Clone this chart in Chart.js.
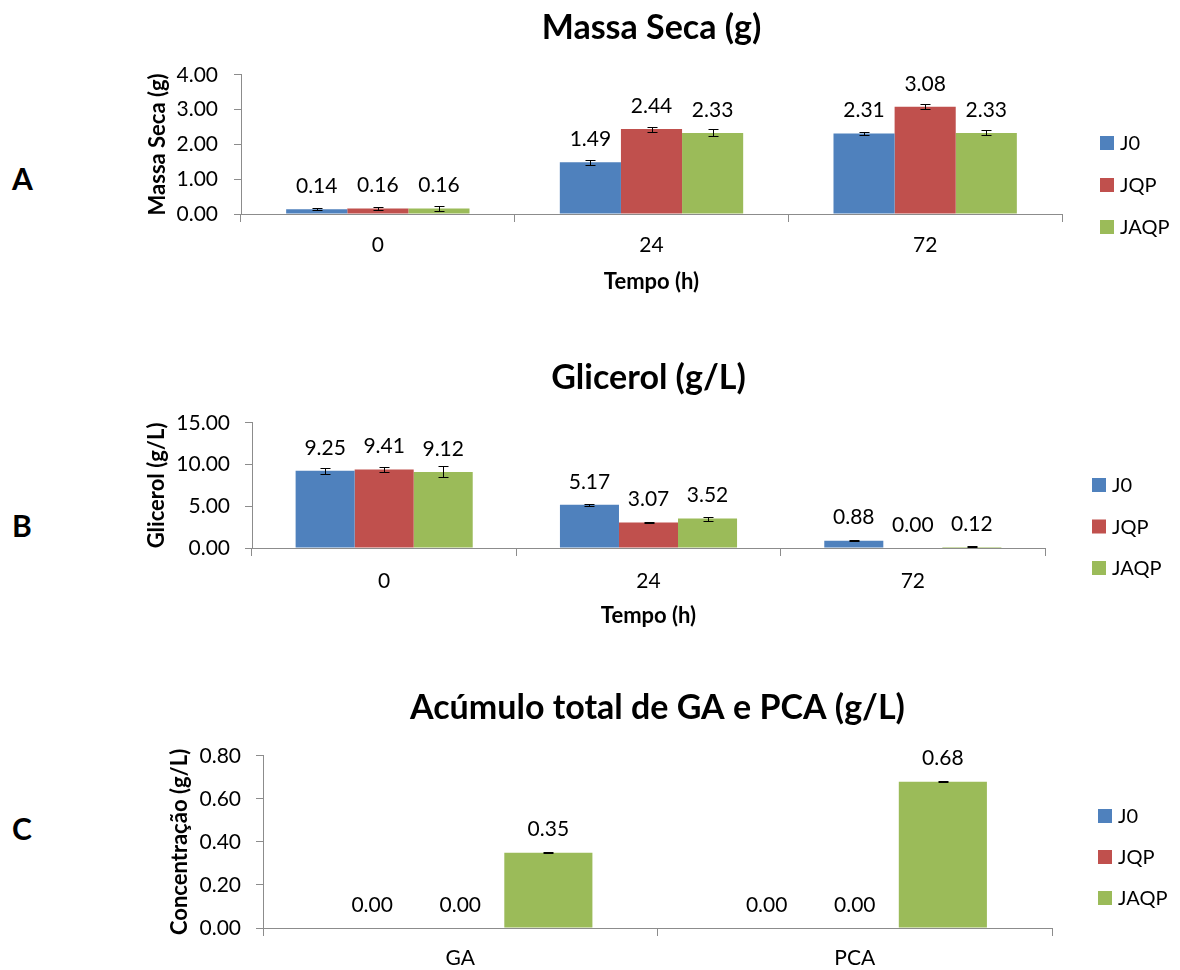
<!DOCTYPE html>
<html>
<head>
<meta charset="utf-8">
<script src="https://cdn.jsdelivr.net/npm/chart.js@4.4.0/dist/chart.umd.min.js"></script>
<style>
    body { margin: 0; background: #fff; width: 1180px; height: 970px; position: relative; overflow: hidden; }
    canvas { position: absolute; left: 0; }
    .letter { position: absolute; left: 12px; font: bold 30px Lato, sans-serif; line-height: 36px; color: #000; }
</style>
</head>
<body>
<div class="letter" style="top:160px">A</div>
<div class="letter" style="top:507px">B</div>
<div class="letter" style="top:810px">C</div>
<canvas id="chartA" width="1180" height="300" style="top:0"></canvas>
<canvas id="chartB" width="1180" height="310" style="top:330px"></canvas>
<canvas id="chartC" width="1180" height="310" style="top:660px"></canvas>
<script>
// Series shared by the three panels
const seriesNames = ['J0', 'JQP', 'JAQP'];
const seriesColors = ['#4F81BD', '#C0504D', '#9BBB59'];

// A - Massa Seca (g)
const tempoLabels = ['0', '24', '72'];
const massaJ0 = [0.14, 1.49, 2.31];
const massaJQP = [0.16, 2.44, 3.08];
const massaJAQP = [0.16, 2.33, 2.33];
const massaErrJ0 = [0.03, 0.07, 0.04];
const massaErrJQP = [0.04, 0.07, 0.07];
const massaErrJAQP = [0.07, 0.10, 0.07];
const massaTicks = [0, 1, 2, 3, 4];

// B - Glicerol (g/L)
const glicerolJ0 = [9.25, 5.17, 0.88];
const glicerolJQP = [9.41, 3.07, 0.00];
const glicerolJAQP = [9.12, 3.52, 0.12];
const glicerolErrJ0 = [0.35, 0.15, 0.05];
const glicerolErrJQP = [0.25, 0.10, 0];
const glicerolErrJAQP = [0.65, 0.25, 0.06];
const glicerolTicks = [0, 5, 10, 15];

// C - Acumulo total de GA e PCA (g/L)
const acidoLabels = ['GA', 'PCA'];
const acumuloJ0 = [0.00, 0.00];
const acumuloJQP = [0.00, 0.00];
const acumuloJAQP = [0.35, 0.68];
const acumuloErrJ0 = [0, 0];
const acumuloErrJQP = [0, 0];
const acumuloErrJAQP = [0.003, 0.004];
const acumuloTicks = [0, 0.2, 0.4, 0.6, 0.8];

const FONT = 'Lato, sans-serif';
const AXIS_GRAY = '#8c8c8c';

// Error bars drawn from each dataset's "errors" array
const errorBarsPlugin = {
    id: 'errorBars',
    afterDatasetsDraw(chart) {
        const ctx = chart.ctx;
        const yScale = chart.scales.y;
        ctx.save();
        ctx.strokeStyle = '#000';
        ctx.lineWidth = 1;
        chart.data.datasets.forEach((ds, i) => {
            chart.getDatasetMeta(i).data.forEach((bar, j) => {
                const err = ds.errors[j];
                if (!err) return;
                const v = ds.data[j];
                const top = Math.round(yScale.getPixelForValue(v + err)) + 0.5;
                const bot = Math.round(yScale.getPixelForValue(Math.max(0, v - err))) + 0.5;
                const x = Math.round(bar.x) + 0.5;
                ctx.beginPath();
                ctx.moveTo(x, top); ctx.lineTo(x, bot);
                ctx.moveTo(x - 5, top); ctx.lineTo(x + 5, top);
                ctx.moveTo(x - 5, bot); ctx.lineTo(x + 5, bot);
                ctx.stroke();
            });
        });
        ctx.restore();
    }
};

// Value labels above every bar
const valueLabelsPlugin = {
    id: 'valueLabels',
    afterDatasetsDraw(chart) {
        const ctx = chart.ctx;
        ctx.save();
        ctx.font = '21px ' + FONT;
        ctx.fillStyle = '#000';
        ctx.textAlign = 'center';
        ctx.textBaseline = 'middle';
        chart.data.datasets.forEach((ds, i) => {
            chart.getDatasetMeta(i).data.forEach((bar, j) => {
                ctx.fillText(ds.data[j].toFixed(2), bar.x, bar.y - 23);
            });
        });
        ctx.restore();
    }
};

// Legend on the right, like the spreadsheet one
const sideLegendPlugin = {
    id: 'sideLegend',
    afterDraw(chart, args, opts) {
        const ctx = chart.ctx;
        ctx.save();
        ctx.font = '20px ' + FONT;
        ctx.textAlign = 'left';
        ctx.textBaseline = 'middle';
        chart.data.datasets.forEach((ds, i) => {
            const y = opts.y + i * opts.gap;
            ctx.fillStyle = ds.backgroundColor;
            ctx.fillRect(opts.x, y - 7, 14, 14);
            ctx.fillStyle = '#000';
            ctx.fillText(ds.label, opts.x + 20, y + 1);
        });
        ctx.restore();
    }
};

function buildChart(id, cfg) {
    return new Chart(document.getElementById(id), {
        type: 'bar',
        data: {
            labels: cfg.labels,
            datasets: seriesNames.map((name, i) => ({
                label: name,
                data: cfg.values[i],
                errors: cfg.errors[i],
                backgroundColor: seriesColors[i],
                borderWidth: 0,
                categoryPercentage: 0.67,
                barPercentage: 1.0
            }))
        },
        options: {
            responsive: false,
            animation: false,
            layout: { padding: cfg.padding },
            scales: {
                x: {
                    grid: { display: true, drawOnChartArea: false, drawTicks: true, tickLength: 8, color: AXIS_GRAY, offset: true },
                    border: { display: true, color: AXIS_GRAY, width: 1 },
                    ticks: { color: '#000', font: { family: FONT, size: 21 }, padding: cfg.xTickPad },
                    title: {
                        display: !!cfg.xTitle,
                        text: cfg.xTitle || '',
                        color: '#000',
                        font: { family: FONT, size: 22, weight: 'bold' },
                        padding: { top: 0, bottom: cfg.xTitlePad || 0 }
                    },
                    afterFit: s => { s.height = cfg.xHeight; }
                },
                y: {
                    min: 0,
                    max: cfg.ticks[cfg.ticks.length - 1],
                    afterBuildTicks: s => { s.ticks = cfg.ticks.map(v => ({ value: v })); },
                    grid: { display: true, drawOnChartArea: false, drawTicks: true, tickLength: 7, color: AXIS_GRAY },
                    border: { display: true, color: AXIS_GRAY, width: 1 },
                    ticks: { color: '#000', font: { family: FONT, size: 21 }, padding: cfg.yTickPad, callback: v => Number(v).toFixed(2) },
                    title: {
                        display: true,
                        text: cfg.yTitle,
                        color: '#000',
                        font: { family: FONT, size: 22, weight: 'bold' },
                        padding: { top: 4, bottom: 0 }
                    },
                    afterFit: s => { s.width = cfg.yWidth; }
                }
            },
            plugins: {
                legend: { display: false },
                tooltip: { enabled: false },
                title: {
                    display: true,
                    fullSize: false,
                    text: cfg.title,
                    color: '#000',
                    font: { family: FONT, size: 34, weight: 'bold' },
                    padding: cfg.titlePad
                },
                sideLegend: cfg.legend
            }
        },
        plugins: [errorBarsPlugin, valueLabelsPlugin, sideLegendPlugin]
    });
}

buildChart('chartA', {
    labels: tempoLabels,
    values: [massaJ0, massaJQP, massaJAQP],
    errors: [massaErrJ0, massaErrJQP, massaErrJAQP],
    ticks: massaTicks,
    title: 'Massa Seca (g)',
    yTitle: 'Massa Seca (g)',
    xTitle: 'Tempo (h)',
    padding: { left: 141, right: 118, top: 0, bottom: 0 },
    titlePad: { top: 8, bottom: 26 },
    yWidth: 100, yTickPad: 16,
    xHeight: 86, xTickPad: 11, xTitlePad: 5,
    legend: { x: 1100, y: 143, gap: 42 }
});

buildChart('chartB', {
    labels: tempoLabels,
    values: [glicerolJ0, glicerolJQP, glicerolJAQP],
    errors: [glicerolErrJ0, glicerolErrJQP, glicerolErrJAQP],
    ticks: glicerolTicks,
    title: 'Glicerol (g/L)',
    yTitle: 'Glicerol (g/L)',
    xTitle: 'Tempo (h)',
    padding: { left: 140, right: 135, top: 0, bottom: 0 },
    titlePad: { top: 28, bottom: 24 },
    yWidth: 112, yTickPad: 15,
    xHeight: 92, xTickPad: 13, xTitlePad: 11,
    legend: { x: 1092, y: 155, gap: 41.5 }
});

buildChart('chartC', {
    labels: acidoLabels,
    values: [acumuloJ0, acumuloJQP, acumuloJAQP],
    errors: [acumuloErrJ0, acumuloErrJQP, acumuloErrJAQP],
    ticks: acumuloTicks,
    title: 'Acúmulo total de GA e PCA (g/L)',
    yTitle: 'Concentração (g/L)',
    xTitle: '',
    padding: { left: 163, right: 128, top: 0, bottom: 0 },
    titlePad: { top: 28, bottom: 27 },
    yWidth: 100, yTickPad: 15,
    xHeight: 42, xTickPad: 10,
    legend: { x: 1098, y: 156, gap: 41 }
});
</script>
</body>
</html>
